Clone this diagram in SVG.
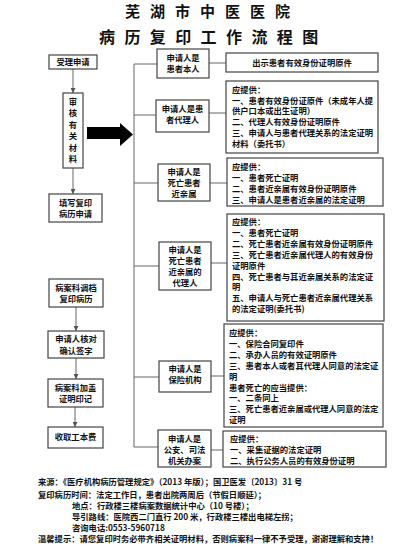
<svg xmlns="http://www.w3.org/2000/svg" width="419" height="550" viewBox="0 0 419 550">
<defs>
<style>
.t{font-family:"Noto Sans CJK SC","Noto Sans CJK TC",sans-serif;font-size:8.3px;font-weight:bold;fill:#111}
.c{text-anchor:middle}
.ttl{font-family:"Noto Sans CJK SC",sans-serif;font-weight:bold;fill:#111}
.box{fill:#fff;stroke:#444;stroke-width:1.2}
.ln{stroke:#666;stroke-width:1;fill:none}
</style>
<marker id="ah" viewBox="0 0 6 6" refX="6" refY="3" markerWidth="5" markerHeight="5" orient="auto" markerUnits="userSpaceOnUse">
<path d="M0,0 L6,3 L0,6 z" fill="#555"/>
</marker>
</defs>
<rect width="419" height="550" fill="#fff"/>
<g id="title">
<text class="ttl" x="125" y="17" font-size="15" letter-spacing="10">芜湖市中医医院</text>
<text class="ttl" x="99" y="43" font-size="16" letter-spacing="9.4">病历复印工作流程图</text>
</g>
<g id="connectors">
<line class="ln" x1="73" y1="69" x2="73" y2="93" marker-end="url(#ah)"/>
<line class="ln" x1="73" y1="168" x2="73" y2="194" marker-end="url(#ah)"/>
<line class="ln" x1="76" y1="307" x2="76" y2="331" marker-end="url(#ah)"/>
<line class="ln" x1="76" y1="358" x2="76" y2="379" marker-end="url(#ah)"/>
<line class="ln" x1="75" y1="407" x2="75" y2="427" marker-end="url(#ah)"/>
<polygon points="87,127 120,127 120,123 133,134.5 120,146 120,139 87,139" fill="#000"/>
<path class="ln" d="M157,64 H134 V447 H158"/>
<line class="ln" x1="134" y1="115" x2="156" y2="115"/>
<line class="ln" x1="134" y1="183" x2="158" y2="183"/>
<line class="ln" x1="134" y1="266" x2="159" y2="266"/>
<line class="ln" x1="134" y1="377" x2="159" y2="377"/>
<line class="ln" x1="209" y1="63" x2="226" y2="63"/>
<line class="ln" x1="209" y1="113" x2="226" y2="113"/>
<line class="ln" x1="210" y1="183" x2="227" y2="183"/>
<line class="ln" x1="211" y1="263" x2="227" y2="263"/>
<line class="ln" x1="211" y1="376" x2="224" y2="376"/>
<line class="ln" x1="211" y1="450" x2="223" y2="450"/>
</g>
<g id="n-accept"><rect class="box" x="49" y="55" width="48" height="14"/><text class="t c" x="73" y="65">受理申请</text></g>
<g id="n-review"><rect class="box" x="63" y="93" width="20" height="75"/>
<text class="t c" x="73" y="105">审</text><text class="t c" x="73" y="116.4">核</text><text class="t c" x="73" y="127.8">有</text><text class="t c" x="73" y="139.2">关</text><text class="t c" x="73" y="150.6">材</text><text class="t c" x="73" y="162">料</text></g>
<g id="n-fill"><rect class="box" x="49" y="194" width="53" height="28"/><text class="t c" x="75.5" y="206">填写复印</text><text class="t c" x="75.5" y="217">病历申请</text></g>
<g id="n-fetch"><rect class="box" x="49" y="279" width="54" height="28"/><text class="t c" x="76" y="291">病案科调档</text><text class="t c" x="76" y="302">复印病历</text></g>
<g id="n-confirm"><rect class="box" x="48" y="331" width="56" height="27"/><text class="t c" x="76" y="342">申请人核对</text><text class="t c" x="76" y="354">确认签字</text></g>
<g id="n-stamp"><rect class="box" x="48" y="379" width="55" height="28"/><text class="t c" x="75.5" y="391">病案科加盖</text><text class="t c" x="75.5" y="402">证明印记</text></g>
<g id="n-fee"><rect class="box" x="48" y="427" width="55" height="21"/><text class="t c" x="75.5" y="439.5">收取工本费</text></g>
<g id="m-self"><rect class="box" x="157" y="49" width="52" height="29"/><text class="t c" x="183" y="61">申请人是</text><text class="t c" x="183" y="72">患者本人</text></g>
<g id="m-agent"><rect class="box" x="156" y="100" width="53" height="32"/><text class="t c" x="182.5" y="112">申请人是患</text><text class="t c" x="182.5" y="123">者代理人</text></g>
<g id="m-kin"><rect class="box" x="158" y="164" width="52" height="37"/><text class="t c" x="184" y="175">申请人是</text><text class="t c" x="184" y="186">死亡患者</text><text class="t c" x="184" y="197">近亲属</text></g>
<g id="m-kinagent"><rect class="box" x="159" y="242" width="52" height="48"/><text class="t c" x="185" y="253">申请人是</text><text class="t c" x="185" y="264">死亡患者</text><text class="t c" x="185" y="275">近亲属的</text><text class="t c" x="185" y="286">代理人</text></g>
<g id="m-ins"><rect class="box" x="159" y="361" width="52" height="31"/><text class="t c" x="185" y="372">申请人是</text><text class="t c" x="185" y="383">保险机构</text></g>
<g id="m-police"><rect class="box" x="158" y="430" width="53" height="37"/><text class="t c" x="184.5" y="442">申请人是</text><text class="t c" x="184.5" y="453">公安、司法</text><text class="t c" x="184.5" y="464">机关办案</text></g>
<g id="r-self"><rect class="box" x="226" y="53" width="152" height="19"/><text class="t c" x="302" y="66">出示患者有效身份证明原件</text></g>
<g id="r-agent"><rect class="box" x="226" y="81" width="152" height="72"/>
<text class="t" x="232" y="93">应提供：</text>
<text class="t" x="232" y="103.7">一、患者有效身份证原件（未成年人提</text>
<text class="t" x="232" y="114.4">供户口本或出生证明）</text>
<text class="t" x="232" y="125.1">二、代理人有效身份证明原件</text>
<text class="t" x="232" y="135.8">三、申请人与患者代理关系的法定证明</text>
<text class="t" x="232" y="146.5">材料（委托书）</text></g>
<g id="r-kin"><rect class="box" x="227" y="158" width="156" height="48"/>
<text class="t" x="232" y="170">应提供：</text>
<text class="t" x="232" y="181">一、患者死亡证明</text>
<text class="t" x="232" y="192">二、患者近亲属有效身份证明原件</text>
<text class="t" x="232" y="203">三、申请人是患者近亲属的法定证明</text></g>
<g id="r-kinagent"><rect class="box" x="227" y="214" width="157" height="107"/>
<text class="t" x="232" y="225">应提供：</text>
<text class="t" x="232" y="235.9">一、患者死亡证明</text>
<text class="t" x="232" y="246.8">二、死亡患者近亲属有效身份证明原件</text>
<text class="t" x="232" y="257.7">三、死亡患者近亲属代理人的有效身份</text>
<text class="t" x="232" y="268.6">证明原件</text>
<text class="t" x="232" y="279.5">四、死亡患者与其近亲属关系的法定证</text>
<text class="t" x="232" y="290.4">明</text>
<text class="t" x="232" y="301.3">五、申请人与死亡患者近亲属代理关系</text>
<text class="t" x="232" y="312.2">的法定证明(委托书)</text></g>
<g id="r-ins"><rect class="box" x="224" y="324" width="159" height="103"/>
<text class="t" x="229" y="336">应提供：</text>
<text class="t" x="229" y="346.9">一、保险合同复印件</text>
<text class="t" x="229" y="357.8">二、承办人员的有效证明原件</text>
<text class="t" x="229" y="368.7">三、患者本人或者其代理人同意的法定证</text>
<text class="t" x="229" y="379.6">明</text>
<text class="t" x="229" y="390.5">患者死亡的应当提供：</text>
<text class="t" x="229" y="401.4">一、二条同上</text>
<text class="t" x="229" y="412.3">三、死亡患者近亲属或代理人同意的法定</text>
<text class="t" x="229" y="423.2">证明</text></g>
<g id="r-police"><rect class="box" x="223" y="431" width="163" height="36"/>
<text class="t" x="230" y="441.5">应提供：</text>
<text class="t" x="230" y="453">一、采集证据的法定证明</text>
<text class="t" x="230" y="464">二、执行公务人员的有效身份证明</text></g>
<g id="notes">
<text class="t" x="38" y="485">来源：《医疗机构病历管理规定》（2013 年版）；国卫医发〔2013〕31 号</text>
<text class="t" x="38" y="497.5">复印病历时间：法定工作日，患者出院两周后（节假日顺延）；</text>
<text class="t" x="72" y="508.5">地点：行政楼三楼病案数据统计中心（10 号楼）；</text>
<text class="t" x="72" y="519.5">导引路线：医院西二门直行 200 米，行政楼三楼出电梯左拐；</text>
<text class="t" x="72" y="530.5">咨询电话:0553-5960718</text>
<text class="t" x="38" y="542">温馨提示：请您复印时务必带齐相关证明材料，否则病案科一律不予受理，谢谢理解和支持！</text>
</g>
</svg>
